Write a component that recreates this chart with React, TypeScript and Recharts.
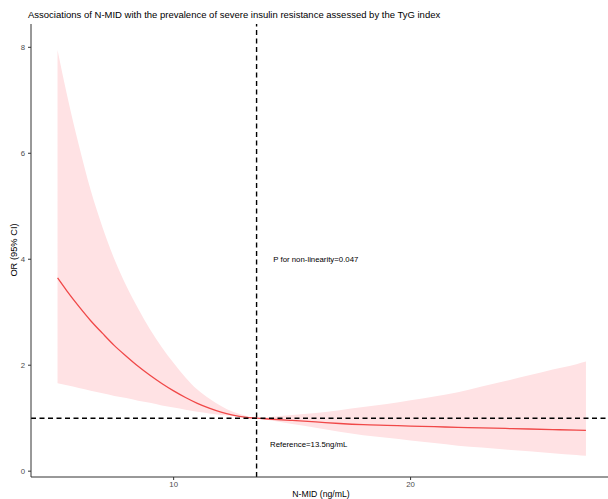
import React from 'react';
import { ComposedChart, Area, Line, XAxis, YAxis, ReferenceLine, ReferenceDot } from 'recharts';

const nmid = [5.1, 5.5, 6, 6.5, 7, 7.5, 8, 8.5, 9, 9.5, 10, 10.5, 11, 11.5, 12, 12.5, 13, 13.5, 14, 15, 16, 17, 18, 19, 20, 21, 22, 23, 24, 25, 26, 27, 27.4];
const orValues = [3.65, 3.4, 3.11, 2.84, 2.6, 2.37, 2.17, 1.98, 1.81, 1.655, 1.515, 1.39, 1.28, 1.19, 1.115, 1.06, 1.02, 1.0, 0.985, 0.957, 0.93, 0.9, 0.878, 0.865, 0.852, 0.84, 0.827, 0.817, 0.806, 0.796, 0.785, 0.775, 0.77];
const upperCI = [7.95, 7.1, 6.15, 5.3, 4.6, 4.0, 3.5, 3.07, 2.68, 2.34, 2.04, 1.77, 1.54, 1.37, 1.23, 1.12, 1.05, 1.0, 1.02, 1.06, 1.1, 1.15, 1.21, 1.27, 1.34, 1.41, 1.49, 1.6, 1.7, 1.81, 1.92, 2.02, 2.07];
const lowerCI = [1.66, 1.62, 1.57, 1.52, 1.47, 1.42, 1.38, 1.33, 1.29, 1.24, 1.2, 1.16, 1.12, 1.09, 1.06, 1.04, 1.02, 1.0, 0.964, 0.89, 0.82, 0.745, 0.68, 0.63, 0.58, 0.53, 0.48, 0.445, 0.41, 0.375, 0.34, 0.305, 0.29];

const xTicks = [10, 20];
const yTicks = [0, 2, 4, 6, 8];
const referenceValue = 13.5;
const titleText = 'Associations of N-MID with the prevalence of severe insulin resistance assessed by the TyG index';
const xLabel = 'N-MID (ng/mL)';
const yLabel = 'OR (95% CI)';
const pText = 'P for non-linearity=0.047';
const refText = 'Reference=13.5ng/mL';

const data = nmid.map((x, i) => ({ x, or: orValues[i], band: [lowerCI[i], upperCI[i]] }));

const FONT = '"Liberation Sans", Arial, sans-serif';

export default function App() {
  return (
    <div style={{ position: 'absolute', left: 0, top: 0, width: 608, height: 499, overflow: 'hidden', background: '#fff', fontFamily: FONT }}>
      <ComposedChart width={614} height={499} data={data} margin={{ top: 24, right: 2, bottom: 0, left: 0 }}>
        <XAxis
          type="number"
          dataKey="x"
          domain={[3.98, 28.5]}
          ticks={xTicks}
          allowDataOverflow
          height={22}
          tickSize={3}
          tickMargin={1}
          stroke="#333"
          tick={{ fontSize: 7.8, fill: '#4d4d4d', fontFamily: FONT }}
        />
        <YAxis
          type="number"
          domain={[-0.11, 8.44]}
          ticks={yTicks}
          allowDataOverflow
          width={31}
          tickSize={3}
          tickMargin={3}
          stroke="#333"
          tick={{ fontSize: 7.8, fill: '#4d4d4d', fontFamily: FONT }}
        />
        <Area dataKey="band" stroke="none" fill="#ffe2e4" fillOpacity={1} type="monotone" isAnimationActive={false} />
        <Line dataKey="or" stroke="#f04848" strokeWidth={1.3} dot={false} type="monotone" isAnimationActive={false} />
        <ReferenceLine y={1} stroke="#000" strokeWidth={1.4} strokeDasharray="5 3.5" />
        <ReferenceLine x={referenceValue} stroke="#000" strokeWidth={1.4} strokeDasharray="5 3.5" />
        <ReferenceDot x={16} y={4} r={0} stroke="none" fill="none"
          label={{ value: pText, position: 'center', fontSize: 7.8, fill: '#000', fontFamily: FONT }} />
        <ReferenceDot x={15.7} y={0.5} r={0} stroke="none" fill="none"
          label={{ value: refText, position: 'center', fontSize: 7.8, fill: '#000', fontFamily: FONT }} />
      </ComposedChart>
      <svg width={608} height={499} style={{ position: 'absolute', left: 0, top: 0, pointerEvents: 'none' }}>
        <text x={28} y={18} fontSize={9.5} fill="#000" fontFamily={FONT}>{titleText}</text>
        <text x={321} y={497} fontSize={8.7} fill="#000" fontFamily={FONT} textAnchor="middle">{xLabel}</text>
        <text x={0} y={0} fontSize={9.3} fill="#000" fontFamily={FONT} textAnchor="middle"
          transform="translate(17,250) rotate(-90)">{yLabel}</text>
      </svg>
    </div>
  );
}
